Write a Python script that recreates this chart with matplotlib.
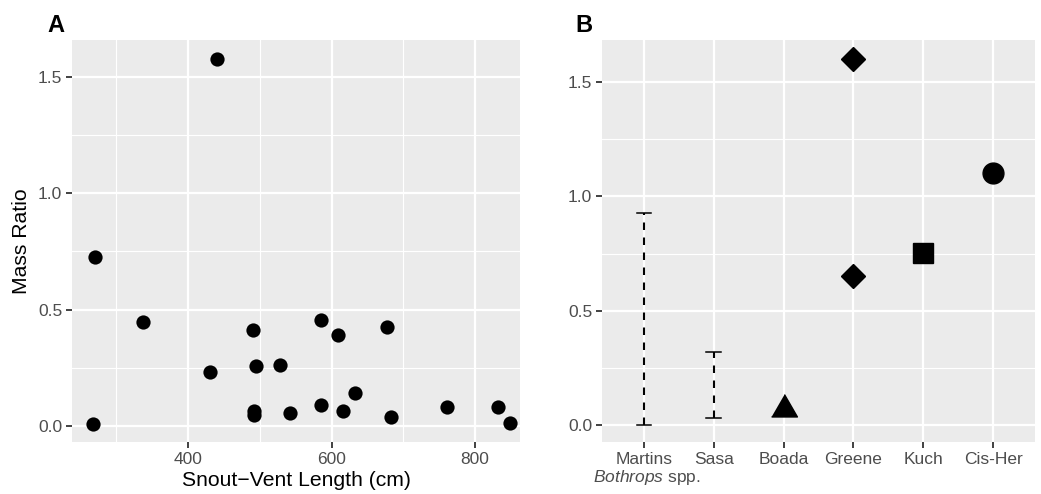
import matplotlib
matplotlib.use("Agg")
import matplotlib.pyplot as plt
from matplotlib.ticker import MultipleLocator

plt.rcParams['font.family'] = ['Liberation Sans', 'DejaVu Sans']
plt.rcParams['mathtext.fontset'] = 'custom'
plt.rcParams['mathtext.it'] = 'Liberation Sans:italic'
plt.rcParams['mathtext.rm'] = 'Liberation Sans'

# Panel A: snout-vent length vs mass ratio
svl = [440.6, 270.4, 268.0, 336.6, 430.8, 490.0, 494.6, 527.7, 491.4, 491.4, 542.2,
       586.0, 608.9, 585.1, 616.3, 632.2, 676.9, 683.0, 760.8, 832.2, 848.5]
mass_ratio = [1.577, 0.728, 0.010, 0.447, 0.231, 0.414, 0.259, 0.262, 0.066, 0.049, 0.054,
              0.457, 0.393, 0.092, 0.063, 0.143, 0.427, 0.037, 0.080, 0.080, 0.014]

# Panel B: literature values
studies = ["Martins", "Sasa", "Boada", "Greene", "Kuch", "Cis-Her"]
range_studies = ["Martins", "Sasa"]
range_low = [0.0, 0.031]
range_high = [0.926, 0.319]
boada_val = [0.07]
greene_vals = [1.60, 0.651]
kuch_val = [0.751]
cisher_val = [1.10]

bg = "#EBEBEB"
tick_col = "#4D4D4D"

fig = plt.figure(figsize=(10.41, 4.94), dpi=100)
H = 494.0
W = 1041.0
axA = fig.add_axes([72 / W, 52 / H, 448 / W, 402 / H])
axB = fig.add_axes([602 / W, 52 / H, 433 / W, 402 / H])


def style(ax):
    ax.set_facecolor(bg)
    for s in ax.spines.values():
        s.set_visible(False)
    ax.grid(True, which="major", color="white", linewidth=1.6)
    ax.grid(True, which="minor", color="white", linewidth=0.8)
    ax.set_axisbelow(True)
    ax.tick_params(which="major", length=4, width=1.3, color="#333333",
                   labelcolor=tick_col, labelsize=12.5, pad=3)
    ax.tick_params(which="minor", length=0)


# --- A ---
style(axA)
axA.scatter(svl, mass_ratio, s=105, color="black", zorder=3, linewidths=0)
axA.set_xlim(238.3, 862.7)
axA.set_ylim(-0.069, 1.659)
axA.xaxis.set_major_locator(MultipleLocator(200))
axA.xaxis.set_minor_locator(MultipleLocator(100))
axA.yaxis.set_major_locator(MultipleLocator(0.5))
axA.yaxis.set_minor_locator(MultipleLocator(0.25))
axA.yaxis.set_major_formatter(matplotlib.ticker.FormatStrFormatter("%.1f"))
axA.set_xlabel("Snout\u2212Vent Length (cm)", fontsize=15.2, labelpad=3)
axA.set_ylabel("Mass Ratio", fontsize=15.2, labelpad=5)
fig.text(47 / W, 1 - 32 / H, "A", fontsize=17, fontweight="bold", va="baseline")

# --- B ---
style(axB)
xpos = {name: i + 1 for i, name in enumerate(studies)}
for name, lo, hi in zip(range_studies, range_low, range_high):
    x = xpos[name]
    axB.plot([x, x], [lo, hi], color="black", linewidth=1.5,
             linestyle=(0, (3.6, 3.6)), zorder=3)
    axB.plot([x - 0.105, x + 0.105], [lo, lo], color="black", linewidth=1.1, zorder=3)
    axB.plot([x - 0.105, x + 0.105], [hi, hi], color="black", linewidth=1.1, zorder=3)
tri = [(-1, -0.577), (1, -0.577), (0, 1.155)]
axB.plot([xpos["Boada"]] * len(boada_val), boada_val, marker=tri, markersize=21.5,
         linestyle="none", color="black", zorder=3)
axB.plot([xpos["Greene"]] * len(greene_vals), greene_vals, marker="D", markersize=12.2,
         linestyle="none", color="black", zorder=3)
axB.plot([xpos["Kuch"]] * len(kuch_val), kuch_val, marker="s", markersize=15,
         linestyle="none", color="black", zorder=3)
axB.plot([xpos["Cis-Her"]] * len(cisher_val), cisher_val, marker="o", markersize=15,
         linestyle="none", color="black", zorder=3)
axB.set_xlim(0.4, 6.6)
axB.set_ylim(-0.073, 1.683)
axB.set_xticks(list(xpos.values()))
axB.set_xticklabels(studies)
axB.yaxis.set_major_locator(MultipleLocator(0.5))
axB.yaxis.set_minor_locator(MultipleLocator(0.25))
axB.yaxis.set_major_formatter(matplotlib.ticker.FormatStrFormatter("%.1f"))
axB.grid(False, axis="x", which="minor")
fig.text(593 / W, 1 - 482 / H, r"$\it{Bothrops}$ spp.", fontsize=12.5, color=tick_col,
         va="baseline")
fig.text(575 / W, 1 - 32 / H, "B", fontsize=17, fontweight="bold", va="baseline")

fig.savefig("out.png", dpi=100)
